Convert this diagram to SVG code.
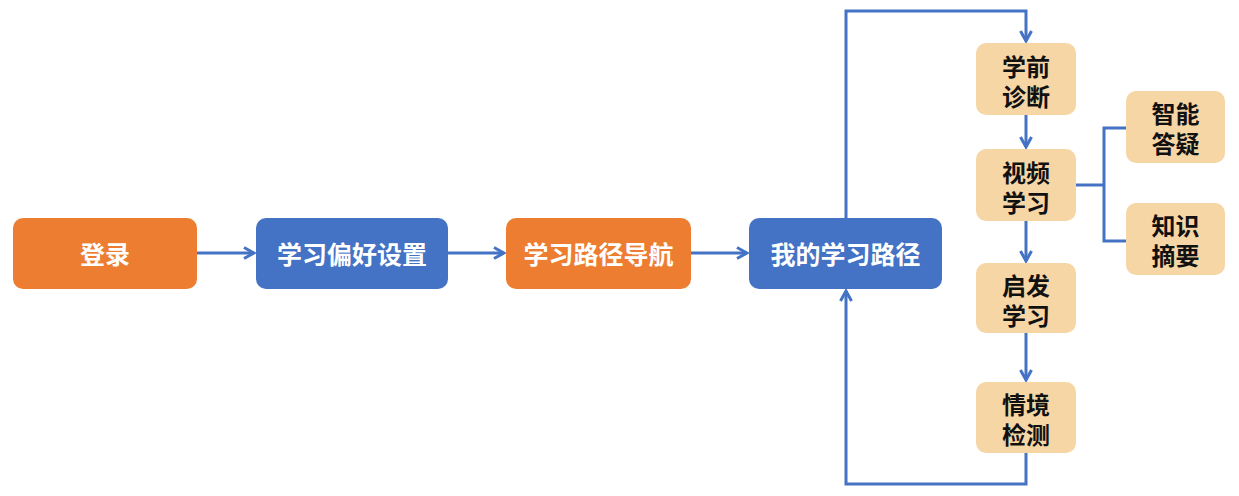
<svg xmlns="http://www.w3.org/2000/svg" width="1239" height="496" viewBox="0 0 1239 496">
<style>
.orange{fill:#ED7D31}
.blue{fill:#4472C4}
.tan{fill:#F7D6A6}
.wt{fill:#fff;font-family:"Liberation Sans","Noto Sans CJK SC",sans-serif;font-weight:bold;font-size:25px;text-anchor:middle;dominant-baseline:central}
.bt{fill:#111;font-family:"Liberation Sans","Noto Sans CJK SC",sans-serif;font-weight:bold;font-size:24px;text-anchor:middle;dominant-baseline:central}
.ln{fill:none;stroke:#4472C4;stroke-width:3}
</style>
<defs>
<marker id="arr" viewBox="0 0 14 14" refX="12" refY="7" markerWidth="14" markerHeight="14" markerUnits="userSpaceOnUse" orient="auto">
<path d="M2,1.5 L12,7 L2,12.5" fill="none" stroke="#4472C4" stroke-width="3"/>
</marker>
</defs>
<rect width="1239" height="496" fill="#fff"/>
<g id="connectors">
<line class="ln" x1="197" y1="253" x2="254" y2="253" marker-end="url(#arr)"/>
<line class="ln" x1="448" y1="253" x2="504" y2="253" marker-end="url(#arr)"/>
<line class="ln" x1="691" y1="253" x2="747" y2="253" marker-end="url(#arr)"/>
<polyline class="ln" points="846,218 846,11 1026,11 1026,41" marker-end="url(#arr)"/>
<line class="ln" x1="1026" y1="115" x2="1026" y2="147" marker-end="url(#arr)"/>
<line class="ln" x1="1026" y1="221" x2="1026" y2="261" marker-end="url(#arr)"/>
<line class="ln" x1="1026" y1="333" x2="1026" y2="380" marker-end="url(#arr)"/>
<polyline class="ln" points="1026,453 1026,484 846,484 846,291" marker-end="url(#arr)"/>
<polyline class="ln" points="1076,185 1104,185"/>
<polyline class="ln" points="1126,128 1104,128 1104,241 1126,241"/>
</g>
<g id="n1"><rect class="orange" x="13" y="218" width="184" height="71" rx="10"/><text class="wt" x="105" y="254.5">登录</text></g>
<g id="n2"><rect class="blue" x="256" y="218" width="192" height="71" rx="10"/><text class="wt" x="352" y="254.5">学习偏好设置</text></g>
<g id="n3"><rect class="orange" x="506" y="218" width="185" height="71" rx="10"/><text class="wt" x="598.5" y="254.5">学习路径导航</text></g>
<g id="n4"><rect class="blue" x="749" y="218" width="193" height="71" rx="10"/><text class="wt" x="845.5" y="254.5">我的学习路径</text></g>
<g id="n5"><rect class="tan" x="976" y="43" width="100" height="72" rx="10"/><text class="bt" x="1026" y="67">学前</text><text class="bt" x="1026" y="97">诊断</text></g>
<g id="n6"><rect class="tan" x="976" y="149" width="100" height="72" rx="10"/><text class="bt" x="1026" y="173">视频</text><text class="bt" x="1026" y="203">学习</text></g>
<g id="n7"><rect class="tan" x="976" y="263" width="100" height="70" rx="10"/><text class="bt" x="1026" y="286">启发</text><text class="bt" x="1026" y="316">学习</text></g>
<g id="n8"><rect class="tan" x="976" y="382" width="100" height="71" rx="10"/><text class="bt" x="1026" y="405">情境</text><text class="bt" x="1026" y="435">检测</text></g>
<g id="n9"><rect class="tan" x="1126" y="91" width="99" height="72" rx="10"/><text class="bt" x="1175.5" y="114">智能</text><text class="bt" x="1175.5" y="144">答疑</text></g>
<g id="n10"><rect class="tan" x="1126" y="203" width="99" height="72" rx="10"/><text class="bt" x="1175.5" y="226">知识</text><text class="bt" x="1175.5" y="256">摘要</text></g>
</svg>
